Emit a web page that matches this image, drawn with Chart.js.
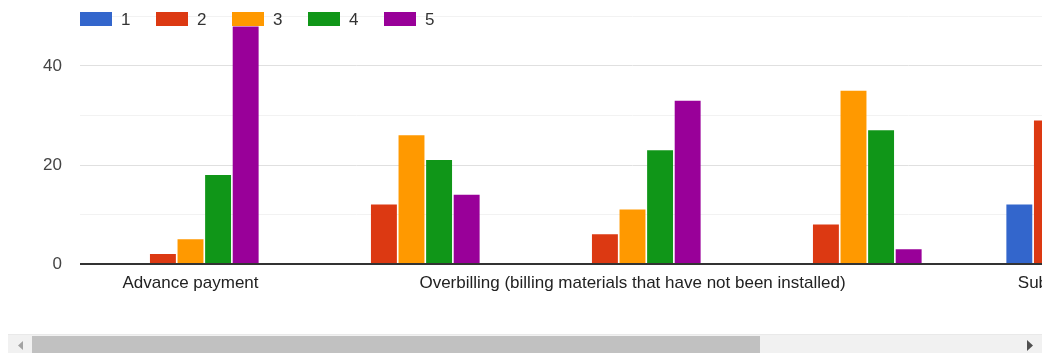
<!DOCTYPE html>
<html>
<head>
<meta charset="utf-8">
<script src="https://cdn.jsdelivr.net/npm/chart.js@4/dist/chart.umd.min.js"></script>
<style>
    html, body { margin: 0; padding: 0; background: #fff; overflow: hidden; }
    .wrap {
        position: absolute;
        left: 8px;
        top: 0;
        width: 1034px;
        height: 334px;
        overflow: hidden;
    }
    /* horizontal scroller under the chart */
    .track {
        position: absolute;
        left: 8px;
        top: 334px;
        width: 1034px;
        height: 19px;
        background: #f1f1f1;
        border-top: 1px solid #e9e9e9;
        box-sizing: border-box;
    }
    .thumb {
        position: absolute;
        left: 24px;
        top: 1px;
        width: 728px;
        height: 18px;
        background: #c1c1c1;
    }
    .arrow { position: absolute; top: 0; }
    #Chart { display: block; }
</style>
</head>
<body>
<div class="wrap">
    <canvas id="Chart" width="1400" height="334"></canvas>
</div>
<div class="track">
    <svg class="arrow" style="left:0" width="24" height="19"><polygon points="15,6 15,15 10,10.5" fill="#a3a3a3"/></svg>
    <div class="thumb"></div>
    <svg class="arrow" style="left:1010px" width="24" height="19"><polygon points="9,5 9,16 15,10.5" fill="#505050"/></svg>
</div>
<script>
// answers per category, one array per rating (1..5)
const categories = [
    "Advance payment",
    "",
    "Overbilling (billing materials that have not been installed)",
    "",
    "Subcontracting"
];
const ratingLabels = ["1", "2", "3", "4", "5"];
const rating1 = [0, 0, 0, 0, 12];
const rating2 = [2, 12, 6, 8, 29];
const rating3 = [5, 26, 11, 35, null];
const rating4 = [18, 21, 23, 27, null];
const rating5 = [48, 14, 33, 3, null];
const yTicks = [0, 20, 40];

const colors = ['#3366cc', '#dc3912', '#ff9900', '#109618', '#990099'];
const FONT = "Arial, 'Liberation Sans', sans-serif";

const series = [rating1, rating2, rating3, rating4, rating5];

const dataProm = {
    labels: categories,
    datasets: series.map((values, i) => ({
        label: ratingLabels[i],
        data: values,
        backgroundColor: colors[i],
        borderWidth: 0,
        categoryPercentage: 0.624,
        barPercentage: 0.94
    }))
};

// legend drawn over the top of the plot, the way the form summary shows it
const topLegend = {
    id: 'topLegend',
    afterDraw(chart) {
        const ctx = chart.ctx;
        const left = chart.chartArea.left;
        ctx.save();
        ctx.font = '17px ' + FONT;
        ctx.textBaseline = 'middle';
        ctx.textAlign = 'left';
        chart.data.datasets.forEach((ds, i) => {
            const x = left + i * 76;
            ctx.fillStyle = ds.backgroundColor;
            ctx.fillRect(x, 12, 32, 14);
            ctx.fillStyle = '#333';
            ctx.fillText(ds.label, x + 41, 20);
        });
        ctx.restore();
    }
};

const optionsProm = {
    responsive: false,
    animation: false,
    layout: {
        padding: { top: 16.5, right: 223, bottom: 0, left: 0 }
    },
    plugins: {
        legend: { display: false },
        tooltip: { enabled: false }
    },
    scales: {
        x: {
            grid: { display: false, drawTicks: false },
            border: { display: false },
            ticks: {
                autoSkip: false,
                maxRotation: 0,
                minRotation: 0,
                padding: 9,
                color: '#222',
                font: { family: FONT, size: 17 }
            },
            afterFit(scale) {
                scale.height = 70;
                scale.paddingLeft = 0;
                scale.paddingRight = 0;
            }
        },
        y: {
            min: 0,
            max: 50,
            border: { display: false },
            grid: {
                drawTicks: false,
                color: (c) => c.tick.value === 0 ? '#333' : (c.tick.value % 20 === 0 ? '#e0e0e0' : '#f2f2f2'),
                lineWidth: (c) => c.tick.value === 0 ? 2 : 1
            },
            ticks: {
                stepSize: 10,
                padding: 18,
                color: '#444',
                font: { family: FONT, size: 17 },
                callback: (v) => yTicks.includes(v) ? v : ''
            },
            afterFit(scale) {
                scale.width = 72;
                scale.paddingTop = 0;
                scale.paddingBottom = 0;
            }
        }
    }
};

let barChartElement = document.getElementById('Chart').getContext('2d');
let barChart = new Chart(barChartElement, {
    type: 'bar',
    data: dataProm,
    options: optionsProm,
    plugins: [topLegend]
});
</script>
</body>
</html>
